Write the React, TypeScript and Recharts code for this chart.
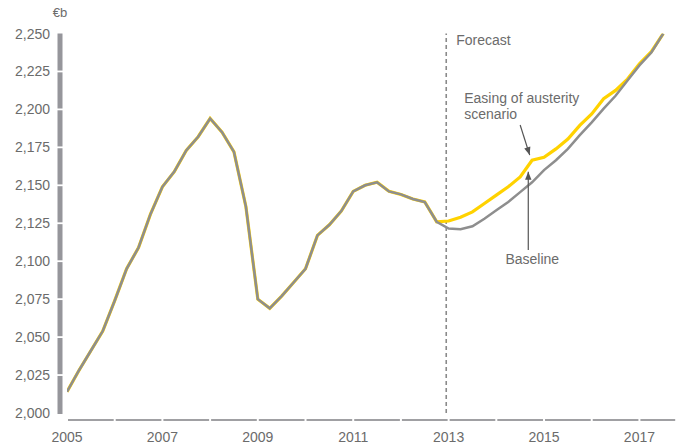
import React from 'react';
import { LineChart, Line, XAxis, YAxis, ReferenceLine } from 'recharts';

// Quarterly time stamps (year + quarter fraction)
const quarters = [
  2005, 2005.25, 2005.5, 2005.75,
  2006, 2006.25, 2006.5, 2006.75,
  2007, 2007.25, 2007.5, 2007.75,
  2008, 2008.25, 2008.5, 2008.75,
  2009, 2009.25, 2009.5, 2009.75,
  2010, 2010.25, 2010.5, 2010.75,
  2011, 2011.25, 2011.5, 2011.75,
  2012, 2012.25, 2012.5, 2012.75,
  2013, 2013.25, 2013.5, 2013.75,
  2014, 2014.25, 2014.5, 2014.75,
  2015, 2015.25, 2015.5, 2015.75,
  2016, 2016.25, 2016.5, 2016.75,
  2017, 2017.25, 2017.5,
];

// Outturn (shared by both series), €b
const history = [
  2014, 2028, 2041, 2054,
  2074, 2095, 2109, 2131,
  2149, 2159, 2173, 2182,
  2194, 2185, 2172, 2136,
  2075, 2069, 2077, 2086,
  2095, 2117, 2124, 2133,
  2146, 2150, 2152, 2146,
  2144, 2141, 2139, 2126,
];

// Forecasts from 2013 Q1
const easingForecast = [
  2126.5, 2129, 2132.5, 2138,
  2143.5, 2149, 2155.5, 2166.5,
  2168.5, 2174, 2180.5, 2189.5,
  2197, 2207, 2212.5, 2220,
  2230, 2238, 2250,
];
const baselineForecast = [
  2121.5, 2121, 2123, 2128,
  2133.5, 2139, 2145.5, 2152,
  2160, 2166.5, 2174, 2183,
  2191.5, 2200.5, 2209, 2219,
  2229, 2237.5, 2250,
];

const xTicks = [2005, 2006, 2007, 2008, 2009, 2010, 2011, 2012, 2013, 2014, 2015, 2016, 2017];
const xLabels = [2005, 2007, 2009, 2011, 2013, 2015, 2017];
const yTicks = [2000, 2025, 2050, 2075, 2100, 2125, 2150, 2175, 2200, 2225, 2250];

const forecastStart = 2012.95;
const easingArrow = [{ x: 2014.5, y: 2189.7 }, { x: 2014.7, y: 2169.9 }];
const baselineArrow = [{ x: 2014.67, y: 2107.4 }, { x: 2014.67, y: 2159 }];

const rows = quarters.map((t, i) => ({
  t,
  easing: i < history.length ? history[i] : easingForecast[i - history.length],
  baseline: i < history.length ? history[i] : baselineForecast[i - history.length],
}));

const FONT = '"Liberation Sans", Arial, sans-serif';
const TEXT = '#6b6b6b';

function XTick(props: any) {
  const { x, y, payload } = props;
  const v = payload.value;
  return (
    <g>
      {v === 2005 ? (
        <rect x={x - 10} y={y - 4} width={11} height={8} fill="#fff" />
      ) : (
        <rect x={x - 1} y={y - 3} width={2} height={6} fill="#fff" />
      )}
      {xLabels.includes(v) && (
        <text x={x} y={y + 21.5} textAnchor="middle" fontFamily={FONT} fontSize={14} fill={TEXT}>
          {v}
        </text>
      )}
    </g>
  );
}

function YTick(props: any) {
  const { x, y, payload } = props;
  const v = payload.value;
  return (
    <g>
      {v === 2000 ? (
        <rect x={x - 5} y={y + 1} width={10} height={11} fill="#fff" />
      ) : v !== 2250 ? (
        <rect x={x - 4} y={y - 0.9} width={8} height={1.8} fill="#fff" />
      ) : null}
      <text x={x - 10} y={y + 5} textAnchor="end" fontFamily={FONT} fontSize={14} fill={TEXT}>
        {v.toLocaleString('en-US')}
      </text>
    </g>
  );
}

function ForecastShape(p: any) {
  const { x1, y1, x2, y2 } = p;
  const top = Math.min(y1, y2);
  return (
    <g>
      <line x1={x1} y1={y1} x2={x2} y2={y2} stroke="#8a8a8a" strokeWidth={1.6} strokeDasharray="4 3" />
      <text x={x1 + 10} y={top + 11} fontFamily={FONT} fontSize={14} fill={TEXT}>Forecast</text>
    </g>
  );
}

function arrowHead(x1: number, y1: number, x2: number, y2: number) {
  const dx = x2 - x1, dy = y2 - y1;
  const len = Math.sqrt(dx * dx + dy * dy) || 1;
  const ux = dx / len, uy = dy / len;
  const L = 8, Wd = 3.2;
  const bx = x2 - ux * L, by = y2 - uy * L;
  return `${x2},${y2} ${bx - uy * Wd},${by + ux * Wd} ${bx + uy * Wd},${by - ux * Wd}`;
}

function EasingShape(p: any) {
  const { x1, y1, x2, y2 } = p;
  return (
    <g>
      <line x1={x1} y1={y1} x2={x2} y2={y2} stroke="#555" strokeWidth={1.2} />
      <polygon points={arrowHead(x1, y1, x2, y2)} fill="#555" />
      <text x={x1 - 56} y={y1 - 22} fontFamily={FONT} fontSize={14} fill={TEXT}>Easing of austerity</text>
      <text x={x1 - 56} y={y1 - 6} fontFamily={FONT} fontSize={14} fill={TEXT}>scenario</text>
    </g>
  );
}

function BaselineShape(p: any) {
  const { x1, y1, x2, y2 } = p;
  return (
    <g>
      <line x1={x1} y1={y1} x2={x2} y2={y2} stroke="#555" strokeWidth={1.2} />
      <polygon points={arrowHead(x1, y1, x2, y2)} fill="#555" />
      <text x={x1 + 4} y={y1 + 14} textAnchor="middle" fontFamily={FONT} fontSize={14} fill={TEXT}>Baseline</text>
    </g>
  );
}

export default function App() {
  return (
    <div style={{ position: 'absolute', left: 0, top: 0, width: 682, height: 443, background: '#fff' }}>
      <div style={{ position: 'absolute', left: 50, top: 5, width: 20, textAlign: 'center', fontFamily: FONT, fontSize: 13, color: TEXT }}>
        €b
      </div>
      <LineChart width={682} height={443} data={rows} margin={{ top: 33.5, right: 6.8, bottom: 0, left: 0 }}>
        <XAxis
          dataKey="t"
          type="number"
          domain={[2005, 2017.75]}
          ticks={xTicks}
          interval={0}
          height={23}
          padding={{ left: 7, right: 0 }}
          tickSize={0}
          tickMargin={0}
          tickLine={false}
          axisLine={{ stroke: '#a0a0a3', strokeWidth: 2 }}
          tick={XTick}
          allowDataOverflow
        />
        <YAxis
          type="number"
          domain={[2000, 2250]}
          ticks={yTicks}
          interval={0}
          width={60}
          padding={{ top: 0, bottom: 7 }}
          tickSize={0}
          tickMargin={0}
          tickLine={false}
          axisLine={{ stroke: '#96969b', strokeWidth: 5 }}
          tick={YTick}
          allowDataOverflow
        />
        <ReferenceLine
          segment={[{ x: forecastStart, y: 2000 }, { x: forecastStart, y: 2250 }]}
          ifOverflow="visible"
          shape={ForecastShape}
        />
        <Line dataKey="easing" type="linear" stroke="#FFD200" strokeWidth={3.2} dot={false} activeDot={false} isAnimationActive={false} />
        <Line dataKey="baseline" type="linear" stroke="#8e8e8e" strokeWidth={2.5} dot={false} activeDot={false} isAnimationActive={false} />
        <ReferenceLine segment={easingArrow} ifOverflow="visible" shape={EasingShape} />
        <ReferenceLine segment={baselineArrow} ifOverflow="visible" shape={BaselineShape} />
      </LineChart>
    </div>
  );
}
